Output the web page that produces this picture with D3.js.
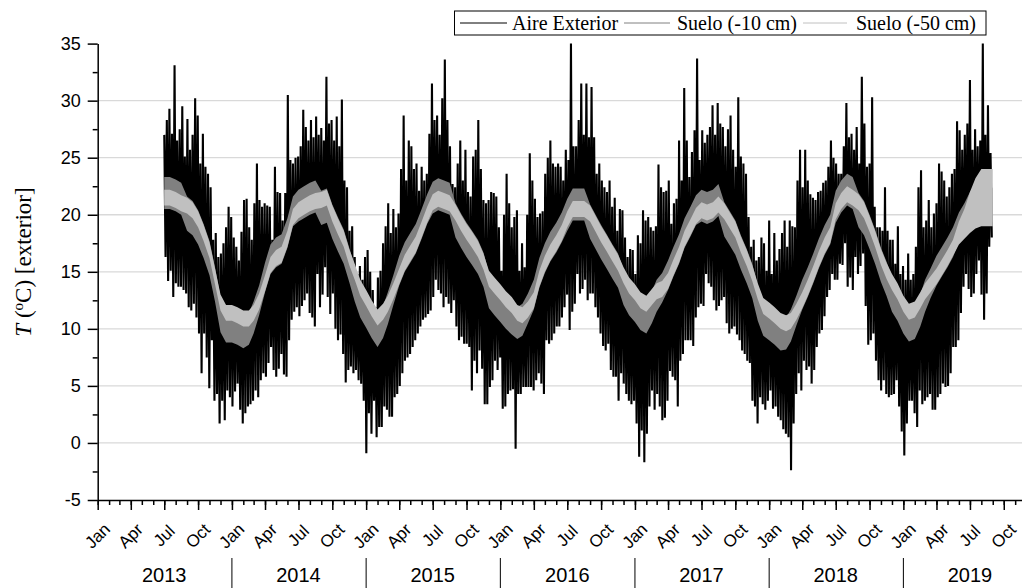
<!DOCTYPE html>
<html>
<head>
<meta charset="utf-8">
<script src="https://cdn.jsdelivr.net/npm/d3@7"></script>
<style>
  body { margin: 0; background: #fff; }
  svg { display: block; }
</style>
</head>
<body>
<div id="chart"></div>
<script>
// Aire exterior: weekly max / min, first week starts 1 Jul 2013
var startDate = new Date(2013, 6, 1);

var aireHi = [
  27.0, 28.3, 29.3, 27.1, 33.1, 26.5, 27.5, 29.5, 25.1, 28.4,
  25.7, 27.0, 30.2, 28.7, 24.5, 27.1, 24.2, 23.6, 22.4, 17.8,
  18.4, 16.3, 16.6, 17.5, 18.9, 20.7, 19.8, 18.0, 17.2, 16.0,
  18.5, 21.3, 21.4, 18.9, 17.8, 21.0, 24.5, 21.3, 20.7, 21.0,
  20.8, 20.7, 17.8, 24.2, 22.0, 21.9, 19.5, 21.9, 30.5, 24.8,
  24.5, 25.0, 25.1, 26.0, 29.2, 27.7, 26.5, 28.3, 26.8, 28.6,
  27.0, 27.6, 26.5, 32.1, 28.0, 28.3, 26.5, 28.6, 26.0, 30.1,
  23.0, 22.4, 18.6, 19.0, 16.3, 14.8, 15.5, 14.3, 16.3, 16.9,
  15.0, 13.4, 11.9, 14.5, 15.1, 17.5, 19.0, 21.0, 18.4, 20.5,
  18.9, 20.1, 24.0, 28.7, 23.0, 26.5, 26.0, 24.0, 24.5, 22.1,
  24.2, 23.0, 23.6, 27.1, 31.5, 28.3, 28.7, 27.0, 30.2, 33.6,
  28.3, 26.0, 22.7, 22.4, 24.5, 26.5, 23.0, 25.7, 22.0, 21.6,
  25.1, 25.7, 28.3, 24.0, 21.3, 21.0, 21.3, 22.0, 21.9, 21.6,
  18.9, 15.1, 20.0, 23.6, 21.0, 18.9, 19.8, 20.4, 15.1, 17.5,
  15.4, 20.0, 25.4, 23.0, 21.4, 19.8, 20.1, 20.3, 23.6, 25.0,
  26.5, 24.5, 24.2, 24.5, 24.2, 23.0, 25.7, 24.8, 35.0, 26.0,
  26.0, 28.3, 31.5, 27.0, 31.5, 26.8, 31.2, 26.8, 23.6, 24.5,
  23.0, 22.4, 22.0, 23.0, 20.7, 21.5, 18.6, 20.5, 20.4, 18.0,
  16.3, 17.0, 16.9, 14.8, 18.2, 17.5, 20.4, 19.5, 19.8, 18.9,
  18.6, 19.0, 24.4, 22.4, 22.0, 22.1, 23.0, 19.2, 21.0, 21.4,
  26.5, 23.0, 31.1, 26.5, 23.3, 25.5, 27.4, 33.7, 24.8, 27.4,
  26.3, 27.0, 27.7, 29.6, 27.0, 29.8, 28.0, 27.7, 26.0, 27.5,
  28.7, 25.7, 24.2, 30.3, 25.1, 24.5, 23.6, 19.8, 17.2, 17.8,
  16.0, 16.3, 18.0, 17.5, 15.1, 19.5, 14.8, 18.4, 16.0, 17.0,
  18.4, 19.5, 17.2, 19.5, 19.0, 18.9, 23.0, 25.7, 22.4, 25.7,
  23.0, 21.8, 21.5, 21.3, 22.0, 22.1, 22.8, 23.0, 24.2, 26.5,
  25.0, 24.5, 23.6, 23.6, 26.0, 29.8, 26.8, 27.1, 25.7, 27.7,
  24.5, 32.1, 28.0, 24.2, 24.5, 30.3, 20.7, 18.9, 18.9, 18.6,
  22.4, 18.6, 17.8, 17.8, 15.7, 19.0, 14.8, 15.5, 14.3, 16.6,
  14.3, 14.8, 17.2, 22.4, 23.9, 18.9, 19.5, 21.3, 18.9, 20.1,
  21.0, 24.5, 23.8, 23.0, 21.6, 22.4, 23.6, 24.0, 28.2, 27.4,
  25.7, 27.0, 28.0, 31.8, 25.7, 27.5, 26.0, 26.5, 35.0, 27.0,
  29.6, 25.4
];

var aireLo = [
  16.3, 14.2, 15.1, 12.8, 14.0, 13.7, 13.7, 13.4, 13.1, 11.9,
  11.6, 12.2, 11.0, 9.6, 6.1, 9.6, 7.5, 4.8, 9.0, 3.7,
  4.3, 1.7, 3.7, 2.0, 4.6, 4.0, 3.2, 4.5, 5.2, 2.9,
  1.7, 2.6, 3.2, 3.4, 3.7, 4.6, 4.0, 5.5, 6.1, 5.8,
  7.0, 8.4, 6.4, 5.8, 6.5, 7.8, 6.0, 5.8, 9.0, 10.8,
  11.5, 11.9, 11.1, 12.0, 12.5, 13.1, 11.4, 11.0, 10.2, 14.8,
  11.9, 13.0, 15.4, 12.8, 11.3, 13.1, 10.0, 9.0, 9.5, 7.8,
  5.3, 6.4, 6.7, 6.1, 6.4, 5.5, 5.2, 3.7, -0.9, 2.6,
  0.8, 3.7, 0.5, 1.4, 1.4, 3.2, 2.9, 2.3, 2.3, 4.0,
  4.3, 5.0, 6.1, 7.2, 7.5, 7.8, 8.4, 9.0, 9.6, 10.2,
  10.8, 11.0, 11.3, 11.6, 12.8, 14.3, 13.4, 13.1, 11.9, 12.8,
  12.2, 11.4, 12.5, 10.2, 9.0, 9.3, 8.7, 8.7, 8.4, 4.6,
  7.2, 6.1, 8.1, 6.5, 3.4, 3.4, 4.9, 5.5, 7.2, 6.4,
  7.5, 3.0, 3.2, 4.3, 4.6, 4.7, -0.5, 4.3, 4.3, 4.9,
  4.9, 4.9, 4.9, 4.6, 5.5, 6.1, 5.2, 4.3, 9.0, 8.7,
  9.0, 9.6, 10.2, 10.2, 11.0, 11.9, 13.0, 9.9, 11.5, 12.2,
  14.8, 13.1, 13.5, 14.3, 12.5, 13.1, 13.1, 11.9, 11.0, 9.6,
  8.5, 8.1, 8.7, 6.4, 5.8, 5.8, 3.7, 6.1, 5.2, 4.3,
  3.7, 3.4, 3.7, 1.7, -1.2, 1.1, -1.7, 0.8, 3.2, 4.6,
  2.9, 4.3, 3.2, 2.0, 2.2, 3.7, 6.3, 5.8, 5.5, 3.2,
  7.2, 7.8, 9.0, 9.0, 9.0, 8.5, 11.0, 11.9, 12.2, 12.0,
  14.8, 14.0, 13.7, 12.5, 11.6, 12.0, 12.5, 12.8, 10.5, 9.6,
  10.0, 10.2, 9.5, 9.0, 8.1, 7.8, 7.2, 7.0, 3.7, 3.2,
  1.7, 4.0, 3.4, 2.9, 3.7, 4.6, 3.0, 3.2, 2.3, 2.0,
  1.2, 0.8, 0.5, -2.4, 1.7, 4.3, 6.1, 4.6, 7.2, 6.4,
  6.7, 5.2, 6.4, 8.4, 9.6, 9.9, 11.1, 12.8, 13.4, 14.8,
  14.3, 14.3, 15.7, 15.6, 17.5, 13.7, 14.5, 13.4, 16.3, 14.8,
  15.5, 16.6, 12.0, 8.6, 9.0, 9.6, 7.2, 5.5, 4.6, 5.5,
  4.3, 4.0, 4.2, 4.3, 5.5, 3.2, 1.0, -1.1, 1.7, 3.7,
  3.7, 2.6, 1.4, 4.6, 3.4, 3.7, 4.0, 4.3, 2.9, 2.9,
  4.0, 4.3, 5.2, 4.9, 5.0, 6.1, 8.4, 8.4, 9.0, 11.4,
  13.7, 14.8, 13.5, 12.8, 13.1, 14.8, 16.0, 13.0, 10.8, 13.1,
  17.2, 18.0
];

// Suelo: values on the 1st and 16th of each month, from 1 Jul 2013
var suelo10Lo = [
  20.5, 20.5, 20.3, 20.0, 18.6, 18.2, 17.4, 16.2, 14.7, 12.4,
  9.7, 8.8, 8.8, 8.6, 8.3, 8.6, 9.6, 11.2, 13.2, 14.8,
  15.4, 15.7, 17.1, 19.0, 19.4, 19.7, 20.0, 20.2, 19.1, 19.3,
  17.9, 16.8, 15.7, 14.1, 12.4, 11.0, 10.1, 9.2, 8.4, 9.2,
  10.4, 12.1, 13.8, 15.0, 15.8, 16.6, 17.9, 19.2, 20.1, 20.4,
  20.2, 20.0, 18.0, 17.1, 16.3, 15.6, 14.8, 13.7, 11.8, 11.2,
  10.6, 10.0, 9.5, 9.1, 9.4, 10.5, 11.7, 13.6, 14.9, 15.9,
  16.7, 17.6, 18.6, 19.5, 19.5, 19.5, 17.9, 17.0, 16.1, 15.3,
  14.4, 13.6, 12.1, 11.2, 10.6, 9.9, 9.6, 10.5, 11.5, 12.3,
  13.4, 14.6, 15.7, 17.1, 18.1, 19.1, 19.4, 19.2, 19.4, 19.9,
  18.1, 17.3, 16.5, 15.2, 14.0, 12.7, 10.7, 9.4, 9.0, 8.6,
  8.1, 8.2, 8.9, 10.3, 11.7, 12.8, 14.0, 15.3, 16.5, 17.4,
  19.3, 20.2, 20.8, 20.5, 18.9, 18.2, 17.0, 15.7, 14.1, 12.9,
  11.5, 10.7, 9.6, 8.9, 9.1, 10.2, 11.5, 12.7, 13.8, 14.6,
  15.4, 16.3, 17.6, 18.4, 19.2, 20.0, 20.5, 20.5, 19.3
];

var suelo10Hi = [
  23.3, 23.3, 23.1, 22.8, 21.6, 21.2, 20.4, 19.2, 17.7, 15.4,
  12.8, 11.9, 11.9, 11.7, 11.4, 11.4, 12.4, 13.8, 15.8, 17.4,
  18.0, 18.3, 19.7, 21.6, 22.2, 22.5, 22.8, 23.0, 22.1, 22.3,
  20.9, 19.8, 18.7, 17.1, 15.5, 14.1, 13.2, 12.3, 11.5, 12.0,
  13.2, 14.7, 16.4, 17.6, 18.4, 19.2, 20.5, 21.8, 22.9, 23.2,
  23.0, 22.8, 21.0, 20.1, 19.3, 18.6, 17.8, 16.7, 14.9, 14.3,
  13.7, 13.1, 12.6, 11.9, 12.2, 13.1, 14.3, 16.2, 17.5, 18.5,
  19.3, 20.2, 21.4, 22.3, 22.3, 22.3, 20.9, 20.0, 19.1, 18.3,
  17.4, 16.6, 15.2, 14.3, 13.7, 13.0, 12.7, 13.3, 14.3, 14.9,
  16.0, 17.2, 18.3, 19.7, 20.7, 21.7, 22.2, 22.0, 22.2, 22.7,
  21.1, 20.3, 19.5, 18.2, 17.0, 15.7, 13.8, 12.5, 12.1, 11.7,
  11.2, 11.0, 11.7, 12.9, 14.3, 15.4, 16.6, 17.9, 19.1, 20.0,
  22.1, 23.0, 23.6, 23.3, 21.9, 21.2, 20.0, 18.7, 17.1, 15.9,
  14.6, 13.8, 12.7, 12.0, 12.2, 13.0, 14.3, 15.3, 16.4, 17.2,
  18.0, 18.9, 20.2, 21.0, 22.0, 22.8, 23.3, 23.3, 22.3
];

var suelo50Lo = [
  20.8, 20.8, 20.6, 20.3, 20.1, 19.7, 18.9, 17.7, 16.2, 13.9,
  11.6, 10.7, 10.7, 10.5, 10.2, 10.2, 10.7, 11.7, 13.3, 14.9,
  15.5, 15.8, 17.2, 19.1, 19.7, 20.0, 20.3, 20.5, 20.6, 20.8,
  19.4, 18.3, 17.2, 15.6, 14.3, 12.9, 12.0, 11.1, 10.3, 10.8,
  11.5, 12.6, 13.9, 15.1, 15.9, 16.7, 18.0, 19.3, 20.4, 20.7,
  20.5, 20.3, 19.5, 18.6, 17.8, 17.1, 16.3, 15.2, 13.7, 13.1,
  12.5, 11.9, 11.4, 10.7, 10.5, 11.0, 11.8, 13.7, 15.0, 16.0,
  16.8, 17.7, 18.9, 19.8, 19.8, 19.8, 19.4, 18.5, 17.6, 16.8,
  15.9, 15.1, 14.0, 13.1, 12.5, 11.8, 11.5, 12.1, 12.6, 12.8,
  13.5, 14.7, 15.8, 17.2, 18.2, 19.2, 19.7, 19.5, 19.7, 20.2,
  19.6, 18.8, 18.0, 16.7, 15.5, 14.2, 12.6, 11.3, 10.9, 10.5,
  10.0, 9.8, 10.0, 10.8, 11.8, 12.9, 14.1, 15.4, 16.6, 17.5,
  19.6, 20.5, 21.1, 20.8, 20.4, 19.7, 18.5, 17.2, 15.6, 14.4,
  13.4, 12.6, 11.5, 10.8, 11.0, 11.8, 12.6, 13.2, 13.9, 14.7,
  15.5, 16.4, 17.4, 17.9, 18.4, 18.8, 19.0, 19.0, 19.0
];

var suelo50Hi = [
  22.2, 22.2, 22.0, 21.7, 21.5, 21.1, 20.3, 19.1, 17.6, 15.3,
  13.0, 12.1, 12.1, 11.9, 11.6, 11.6, 12.1, 13.1, 14.7, 16.3,
  16.9, 17.2, 18.6, 20.5, 21.1, 21.4, 21.7, 21.9, 22.0, 22.2,
  20.8, 19.7, 18.6, 17.0, 15.7, 14.3, 13.4, 12.5, 11.7, 12.2,
  12.9, 14.0, 15.3, 16.5, 17.3, 18.1, 19.4, 20.7, 21.8, 22.1,
  21.9, 21.7, 20.9, 20.0, 19.2, 18.5, 17.7, 16.6, 15.1, 14.5,
  13.9, 13.3, 12.8, 12.1, 11.9, 12.4, 13.2, 15.1, 16.4, 17.4,
  18.2, 19.1, 20.3, 21.2, 21.2, 21.2, 20.8, 19.9, 19.0, 18.2,
  17.3, 16.5, 15.4, 14.5, 13.9, 13.2, 12.9, 13.5, 14.0, 14.2,
  14.9, 16.1, 17.2, 18.6, 19.6, 20.6, 21.1, 20.9, 21.1, 21.6,
  21.0, 20.2, 19.4, 18.1, 16.9, 15.6, 14.0, 12.7, 12.3, 11.9,
  11.4, 11.2, 11.4, 12.2, 13.2, 14.3, 15.5, 16.8, 18.0, 18.9,
  21.0, 21.9, 22.5, 22.2, 21.8, 21.1, 19.9, 18.6, 17.0, 15.8,
  14.8, 14.0, 12.9, 12.2, 12.4, 13.2, 14.0, 14.6, 15.3, 16.1,
  16.9, 17.8, 19.4, 20.5, 22.0, 23.2, 24.0, 24.0, 24.0
];

var yTicks = [-5, 0, 5, 10, 15, 20, 25, 30, 35];
var yMinorTicks = [-2.5, 2.5, 7.5, 12.5, 17.5, 22.5, 27.5, 32.5];
var years = [2013, 2014, 2015, 2016, 2017, 2018, 2019];

var legendItems = [
  {label: "Aire Exterior", color: "#000000", x1: 460, x2: 507, tx: 512},
  {label: "Suelo (-10 cm)", color: "#808080", x1: 624, x2: 670, tx: 677},
  {label: "Suelo (-50 cm)", color: "#c0c0c0", x1: 803, x2: 847, tx: 856}
];

var width = 1022,
    height = 588;

var sansFont = "Arial, 'Liberation Sans', sans-serif";
var serifFont = "'Times New Roman', 'Liberation Serif', serif";

var x = d3.scaleTime()
  .domain([new Date(2013, 0, 1), new Date(2020, 0, 1)])
  .range([97.7, 1037.6]);

var y = d3.scaleLinear()
  .domain([-5, 35])
  .range([500, 43.6]);

var svg = d3.select("#chart")
  .append("svg")
  .attr("width", width)
  .attr("height", height);

svg.append("rect")
  .attr("width", width)
  .attr("height", height)
  .style("fill", "#fff");

// horizontal grid
svg.append("g")
  .selectAll("line")
  .data(yTicks.filter(function(d) { return d > -5 && d < 35; }))
  .enter()
  .append("line")
  .attr("x1", x.range()[0])
  .attr("x2", width)
  .attr("y1", function(d) { return y(d); })
  .attr("y2", function(d) { return y(d); })
  .style("stroke", "#d9d9d9")
  .style("stroke-width", 1.3);

// outdoor air, drawn as max/min zigzag per week
var airePts = [];
aireHi.forEach(function(v, k) {
  airePts.push({t: d3.timeHour.offset(startDate, 168 * k), v: v});
  airePts.push({t: d3.timeHour.offset(startDate, 168 * k + 84), v: aireLo[k]});
});

var line = d3.line()
  .x(function(d) { return x(d.t); })
  .y(function(d) { return y(d.v); });

svg.append("path")
  .datum(airePts)
  .attr("d", line)
  .style("fill", "none")
  .style("stroke", "#000")
  .style("stroke-width", 2.1);

// soil bands
var soilDates = suelo10Lo.map(function(d, j) {
  return new Date(2013, 6 + Math.floor(j / 2), j % 2 ? 16 : 1);
});

var band = d3.area()
  .x(function(d, i) { return x(soilDates[i]); })
  .y0(function(d) { return y(d[0]); })
  .y1(function(d) { return y(d[1]); });

svg.append("path")
  .datum(d3.zip(suelo10Lo, suelo10Hi))
  .attr("d", band)
  .style("fill", "#808080");

svg.append("path")
  .datum(d3.zip(suelo50Lo, suelo50Hi))
  .attr("d", band)
  .style("fill", "#c0c0c0");

// y axis
var yAxis = svg.append("g")
  .attr("transform", "translate(" + x.range()[0] + ",0)")
  .call(d3.axisLeft(y).tickValues(yTicks).tickSize(10).tickPadding(7).tickSizeOuter(0)
    .tickFormat(function(d) { return String(d); }));

svg.append("g")
  .attr("transform", "translate(" + x.range()[0] + ",0)")
  .call(d3.axisLeft(y).tickValues(yMinorTicks).tickSize(5).tickFormat(""))
  .select(".domain").remove();

yAxis.selectAll("text")
  .style("font-family", sansFont)
  .style("font-size", "18px")
  .attr("fill", "#000");

// x axis
var xAxisY = y(-5);

svg.append("g")
  .attr("transform", "translate(0," + xAxisY + ")")
  .call(d3.axisBottom(x).ticks(d3.timeMonth.every(3)).tickSize(10).tickFormat("").tickSizeOuter(0));

svg.append("g")
  .attr("transform", "translate(0," + xAxisY + ")")
  .call(d3.axisBottom(x).ticks(d3.timeMonth.every(1)).tickSize(5).tickFormat(""))
  .select(".domain").remove();

svg.selectAll(".domain, .tick line")
  .style("stroke", "#000")
  .style("stroke-width", 1.5);

var quarters = d3.timeMonth.every(3).range(new Date(2013, 0, 1), new Date(2019, 11, 1));
var fmtMonth = d3.timeFormat("%b");

svg.append("g")
  .selectAll("text")
  .data(quarters)
  .enter()
  .append("text")
  .attr("transform", function(d) { return "translate(" + x(d) + ",536) rotate(-45)"; })
  .attr("text-anchor", "middle")
  .attr("dominant-baseline", "central")
  .style("font-family", sansFont)
  .style("font-size", "17px")
  .text(function(d) { return fmtMonth(d); });

svg.append("g")
  .selectAll("text")
  .data(years)
  .enter()
  .append("text")
  .attr("x", function(d) { return x(new Date(d, 6, 1)); })
  .attr("y", 582)
  .attr("text-anchor", "middle")
  .style("font-family", sansFont)
  .style("font-size", "20px")
  .text(function(d) { return d; });

svg.append("g")
  .selectAll("line")
  .data(years.slice(1))
  .enter()
  .append("line")
  .attr("x1", function(d) { return x(new Date(d, 0, 1)); })
  .attr("x2", function(d) { return x(new Date(d, 0, 1)); })
  .attr("y1", 558)
  .attr("y2", height)
  .style("stroke", "#000")
  .style("stroke-width", 1);

// y title
var title = svg.append("text")
  .attr("transform", "translate(31,262) rotate(-90)")
  .attr("text-anchor", "middle")
  .style("font-family", serifFont)
  .style("font-size", "23px");

title.append("tspan").style("font-style", "italic").text("T");
title.append("tspan").text("  (");
title.append("tspan").attr("baseline-shift", "super").style("font-size", "15px").text("o");
title.append("tspan").text("C) [exterior]");

// legend
var legend = svg.append("g");

legend.append("rect")
  .attr("x", 454.5)
  .attr("y", 11)
  .attr("width", 531.5)
  .attr("height", 24)
  .style("fill", "#fff")
  .style("stroke", "#000")
  .style("stroke-width", 1);

legend.selectAll("line")
  .data(legendItems)
  .enter()
  .append("line")
  .attr("x1", function(d) { return d.x1; })
  .attr("x2", function(d) { return d.x2; })
  .attr("y1", 23)
  .attr("y2", 23)
  .style("stroke", function(d) { return d.color; })
  .style("stroke-width", 1);

legend.selectAll("text")
  .data(legendItems)
  .enter()
  .append("text")
  .attr("x", function(d) { return d.tx; })
  .attr("y", 29.5)
  .style("font-family", serifFont)
  .style("font-size", "20px")
  .text(function(d) { return d.label; });
</script>
</body>
</html>
